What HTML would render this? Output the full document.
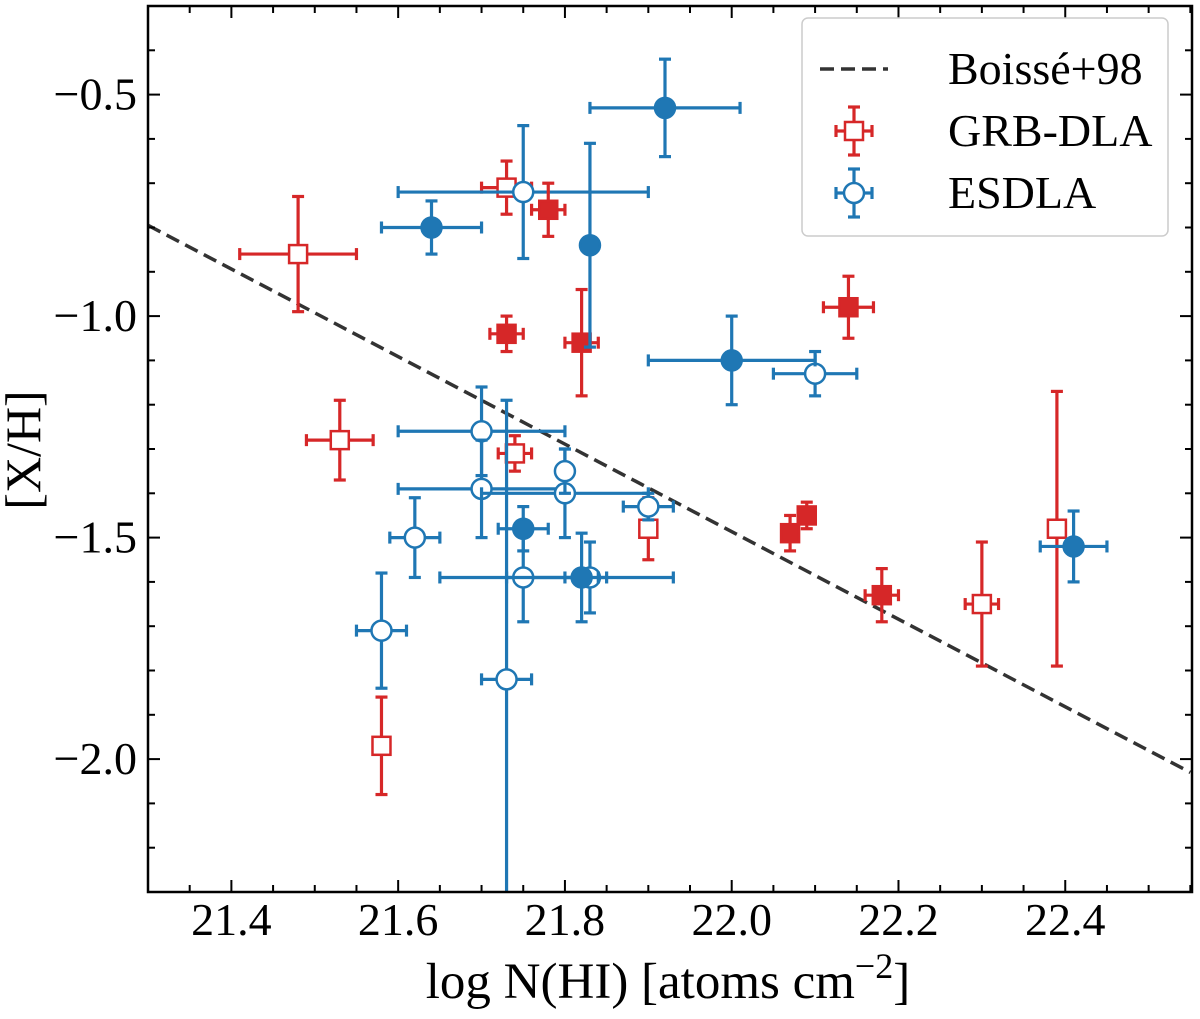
<!DOCTYPE html>
<html><head><meta charset="utf-8"><style>
html,body{margin:0;padding:0;background:#fff;}
svg{display:block;}
text{font-family:"Liberation Serif","Times New Roman",Times,"DejaVu Serif",serif;}
</style></head><body>
<svg id="chart" width="1200" height="1019" viewBox="0 0 1200 1019" xmlns="http://www.w3.org/2000/svg"></svg>
<script>
// ---- data ----
const grbOpenX = [21.48, 21.73, 21.53, 21.74, 21.90, 21.58, 22.30, 22.39];
const grbOpenY = [-0.86, -0.71, -1.28, -1.31, -1.48, -1.97, -1.65, -1.48];
const grbOpenXerr = [0.07, 0.03, 0.04, 0.02, 0.0, 0.0, 0.02, 0.01];
const grbOpenYerr = [0.13, 0.06, 0.09, 0.04, 0.07, 0.11, 0.14, 0.31];

const grbFillX = [21.78, 21.73, 21.82, 22.14, 22.07, 22.09, 22.18];
const grbFillY = [-0.76, -1.04, -1.06, -0.98, -1.49, -1.45, -1.63];
const grbFillXerr = [0.02, 0.02, 0.02, 0.03, 0.01, 0.01, 0.02];
const grbFillYerr = [0.06, 0.04, 0.12, 0.07, 0.04, 0.03, 0.06];

const esOpenX = [21.75, 21.70, 21.70, 21.80, 21.80, 21.62, 21.75, 21.83, 21.90, 21.58, 21.73, 22.10];
const esOpenY = [-0.72, -1.26, -1.39, -1.40, -1.35, -1.50, -1.59, -1.59, -1.43, -1.71, -1.82, -1.13];
const esOpenXerr = [0.15, 0.10, 0.10, 0.10, 0.0, 0.03, 0.10, 0.10, 0.03, 0.03, 0.03, 0.05];
const esOpenYerr = [0.15, 0.10, 0.11, 0.10, 0.05, 0.09, 0.10, 0.08, 0.03, 0.13, 0.63, 0.05];

const esFillX = [21.92, 21.64, 21.83, 22.00, 22.41, 21.75, 21.82];
const esFillY = [-0.53, -0.80, -0.84, -1.10, -1.52, -1.48, -1.59];
const esFillXerr = [0.09, 0.06, 0.0, 0.10, 0.04, 0.03, 0.02];
const esFillYerr = [0.11, 0.06, 0.23, 0.10, 0.08, 0.05, 0.10];

const lineX = [21.3, 22.55];
const lineY = [-0.795, -2.03];

const xTicks = [21.4, 21.6, 21.8, 22.0, 22.2, 22.4];
const xTickLabels = ["21.4", "21.6", "21.8", "22.0", "22.2", "22.4"];
const yTicks = [-0.5, -1.0, -1.5, -2.0];
const yTickLabels = ["\u22120.5", "\u22121.0", "\u22121.5", "\u22122.0"];

// ---- axes ----
const L = 148, R = 1192, T = 6, B = 892;
const xMin = 21.3, xMax = 22.552, yMin = -2.3, yMax = -0.3;
const sx = v => L + (v - xMin) / (xMax - xMin) * (R - L);
const sy = v => B - (v - yMin) / (yMax - yMin) * (B - T);
const NS = "http://www.w3.org/2000/svg";
const svg = document.getElementById('chart');
function mk(tag, attrs, parent) {
  const e = document.createElementNS(NS, tag);
  for (const k in attrs) e.setAttribute(k, attrs[k]);
  (parent || svg).appendChild(e);
  return e;
}
const RED = "#d62728", BLUE = "#1f77b4";
const EW = 3.2;

const defs = mk('defs', {});
const cp = mk('clipPath', {id: 'clip'}, defs);
mk('rect', {x: L, y: T, width: R - L, height: B - T}, cp);
const plot = mk('g', {'clip-path': 'url(#clip)'});



const dl = mk('line', {x1: sx(lineX[0]), y1: sy(lineY[0]), x2: sx(lineX[1]), y2: sy(lineY[1]), stroke: '#333', 'stroke-width': 3.5, 'stroke-dasharray': '14,7'}, plot);



function errbar(g, x, y, xe, ye, color) {
  const cx = sx(x), cy = sy(y), cap = 6;
  if (xe > 0) {
    mk('line', {x1: sx(x - xe), y1: cy, x2: sx(x + xe), y2: cy, stroke: color, 'stroke-width': EW}, g);
    mk('line', {x1: sx(x - xe), y1: cy - cap, x2: sx(x - xe), y2: cy + cap, stroke: color, 'stroke-width': EW}, g);
    mk('line', {x1: sx(x + xe), y1: cy - cap, x2: sx(x + xe), y2: cy + cap, stroke: color, 'stroke-width': EW}, g);
  }
  if (ye > 0) {
    mk('line', {x1: cx, y1: sy(y - ye), x2: cx, y2: sy(y + ye), stroke: color, 'stroke-width': EW}, g);
    mk('line', {x1: cx - cap, y1: sy(y - ye), x2: cx + cap, y2: sy(y - ye), stroke: color, 'stroke-width': EW}, g);
    mk('line', {x1: cx - cap, y1: sy(y + ye), x2: cx + cap, y2: sy(y + ye), stroke: color, 'stroke-width': EW}, g);
  }
}
function marker(g, cx, cy, shape, color, filled) {
  if (shape === 'sq') {
    mk('rect', {x: cx - 9, y: cy - 9, width: 18, height: 18, fill: filled ? color : '#fff', stroke: color, 'stroke-width': 2.5}, g);
  } else {
    mk('circle', {cx: cx, cy: cy, r: 10, fill: filled ? color : '#fff', stroke: color, 'stroke-width': 2.5}, g);
  }
}
function series(xs, ys, xes, yes, color, shape, filled, name) {
  for (let i = 0; i < xs.length; i++) {
    const g = mk('g', {}, plot);
    
    
    errbar(g, xs[i], ys[i], xes[i], yes[i], color);
    marker(g, sx(xs[i]), sy(ys[i]), shape, color, filled);
  }
}
series(grbOpenX, grbOpenY, grbOpenXerr, grbOpenYerr, RED, 'sq', false, 'grb-dla-open');
series(esOpenX, esOpenY, esOpenXerr, esOpenYerr, BLUE, 'c', false, 'esdla-open');
series(grbFillX, grbFillY, grbFillXerr, grbFillYerr, RED, 'sq', true, 'grb-dla-filled');
series(esFillX, esFillY, esFillXerr, esFillYerr, BLUE, 'c', true, 'esdla-filled');

const fr = mk('rect', {x: L, y: T, width: R - L, height: B - T, fill: 'none', stroke: '#000', 'stroke-width': 2.5});



for (let v = 21.3; v <= 22.56; v += 0.05) {
  const major = xTicks.some(t => Math.abs(t - v) < 1e-6);
  const len = major ? 12 : 7;
  mk('line', {x1: sx(v), y1: B, x2: sx(v), y2: B - len, stroke: '#000', 'stroke-width': 2});
  mk('line', {x1: sx(v), y1: T, x2: sx(v), y2: T + len, stroke: '#000', 'stroke-width': 2});
}
for (let v = -2.3; v <= -0.29; v += 0.1) {
  const major = yTicks.some(t => Math.abs(t - v) < 1e-6);
  const len = major ? 12 : 7;
  mk('line', {x1: L, y1: sy(v), x2: L + len, y2: sy(v), stroke: '#000', 'stroke-width': 2});
  mk('line', {x1: R, y1: sy(v), x2: R - len, y2: sy(v), stroke: '#000', 'stroke-width': 2});
}
xTicks.forEach((t, i) => {
  const tx = mk('text', {x: sx(t), y: 935, 'text-anchor': 'middle', 'font-size': 46});
  tx.textContent = xTickLabels[i];
  
  
});
yTicks.forEach((t, i) => {
  const tx = mk('text', {x: 137, y: sy(t) + 15, 'text-anchor': 'end', 'font-size': 46});
  tx.textContent = yTickLabels[i];
  
  
});

const xt = mk('text', {x: 668, y: 998, 'text-anchor': 'middle', 'font-size': 51});
xt.innerHTML = 'log N(HI) [atoms cm<tspan dy="-20" font-size="36">\u22122</tspan><tspan dy="20">]</tspan>';


const yt = mk('text', {x: 0, y: 0, 'text-anchor': 'middle', 'font-size': 50, transform: 'translate(40,450) rotate(-90)'});
yt.textContent = '[X/H]';



const lg = mk('g', {});


mk('rect', {x: 802, y: 18, width: 366, height: 218, rx: 6, fill: '#fff', stroke: '#ccc', 'stroke-width': 1.5}, lg);
mk('line', {x1: 820, y1: 69, x2: 888, y2: 69, stroke: '#333', 'stroke-width': 3.5, 'stroke-dasharray': '14,7'}, lg);
const lt1 = mk('text', {x: 948, y: 84, 'font-size': 46}, lg);
lt1.textContent = 'Boissé+98';


function legMarker(cy, color, shape, name) {
  const g = mk('g', {}, lg);
  
  
  mk('line', {x1: 836, y1: cy, x2: 872, y2: cy, stroke: color, 'stroke-width': EW}, g);
  mk('line', {x1: 836, y1: cy - 6, x2: 836, y2: cy + 6, stroke: color, 'stroke-width': EW}, g);
  mk('line', {x1: 872, y1: cy - 6, x2: 872, y2: cy + 6, stroke: color, 'stroke-width': EW}, g);
  mk('line', {x1: 854, y1: cy - 24, x2: 854, y2: cy + 24, stroke: color, 'stroke-width': EW}, g);
  mk('line', {x1: 848, y1: cy - 24, x2: 860, y2: cy - 24, stroke: color, 'stroke-width': EW}, g);
  mk('line', {x1: 848, y1: cy + 24, x2: 860, y2: cy + 24, stroke: color, 'stroke-width': EW}, g);
  marker(g, 854, cy, shape, color, false);
}
legMarker(131, RED, 'sq', 'legend-marker-grb');
const lt2 = mk('text', {x: 948, y: 146, 'font-size': 46}, lg);
lt2.textContent = 'GRB-DLA';


legMarker(193, BLUE, 'c', 'legend-marker-esdla');
const lt3 = mk('text', {x: 948, y: 208, 'font-size': 46}, lg);
lt3.textContent = 'ESDLA';


</script>
</body></html>
